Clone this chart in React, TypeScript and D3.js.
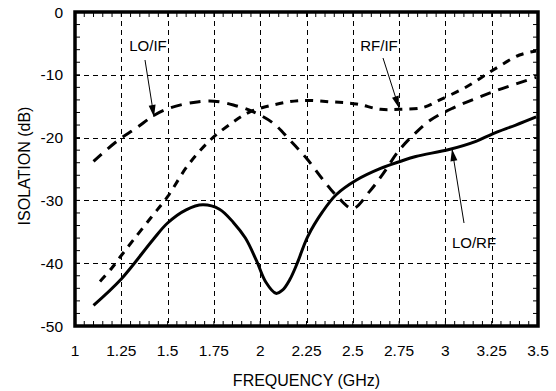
import React from "react";
import * as d3 from "d3";

const xTicks = [1, 1.25, 1.5, 1.75, 2, 2.25, 2.5, 2.75, 3, 3.25, 3.5];
const xTickLabels = ["1", "1.25", "1.5", "1.75", "2", "2.25", "2.5", "2.75", "3", "3.25", "3.5"];
const yTicks = [0, -10, -20, -30, -40, -50];
const yTickLabels = ["0", "-10", "-20", "-30", "-40", "-50"];

const loRfFreq = [1.1, 1.25, 1.42, 1.5, 1.6, 1.69, 1.78, 1.855, 1.92, 1.98, 2.03, 2.085, 2.12, 2.16, 2.2, 2.256, 2.337, 2.41, 2.52, 2.65, 2.755, 2.84, 3.02, 3.165, 3.255, 3.38, 3.49];
const loRfDb = [-46.7, -42.5, -36.3, -33.6, -31.5, -30.7, -31.4, -33.5, -36.0, -39.6, -43.0, -44.8, -44.3, -42.6, -40.0, -35.8, -31.8, -29.1, -26.75, -24.9, -23.8, -23.0, -21.9, -20.6, -19.4, -18.0, -16.7];

const rfIfFreq = [1.135, 1.198, 1.252, 1.315, 1.414, 1.5, 1.61, 1.73, 1.855, 1.945, 2.07, 2.215, 2.38, 2.52, 2.65, 2.755, 2.88, 2.97, 3.115, 3.26, 3.4, 3.49];
const rfIfDb = [-42.9, -40.8, -38.7, -36.3, -32.6, -29.4, -24.4, -20.4, -17.5, -15.9, -14.8, -14.1, -14.3, -14.65, -15.5, -15.5, -15.2, -14.0, -11.9, -9.2, -6.85, -6.2];

const loIfFreq = [1.1, 1.225, 1.33, 1.43, 1.51, 1.64, 1.75, 1.855, 1.963, 2.07, 2.16, 2.25, 2.34, 2.42, 2.5, 2.59, 2.665, 2.745, 2.83, 2.92, 3.04, 3.17, 3.31, 3.49];
const loIfDb = [-23.8, -20.6, -18.5, -16.4, -15.3, -14.4, -14.2, -14.8, -15.9, -17.7, -20.4, -23.3, -26.75, -29.5, -31.3, -28.6, -25.7, -22.2, -19.5, -17.2, -15.3, -13.7, -12.15, -10.4];

const W = 556;
const H = 391;
const left = 75;
const right = 538;
const top = 12;
const bottom = 326;
const FONT = "'Liberation Sans', Arial, sans-serif";

export default function App() {
  const x = d3.scaleLinear().domain([1, 3.5]).range([left, right]);
  const y = d3.scaleLinear().domain([0, -50]).range([top, bottom]);

  const line = d3
    .line<[number, number]>()
    .x((d) => x(d[0]))
    .y((d) => y(d[1]))
    .curve(d3.curveCatmullRom.alpha(0.5));

  const zip = (a: number[], b: number[]) => a.map((v, i) => [v, b[i]] as [number, number]);

  const minorX = d3.range(1, 3.5001, 0.05);
  const minorY = d3.range(0, -50.001, -2);

  const arrows = [
    { x1: 145, y1: 60, x2: 154, y2: 117 },
    { x1: 383, y1: 58, x2: 399, y2: 108 },
    { x1: 464, y1: 223, x2: 452, y2: 149 },
  ];

  const arrowHead = (a: { x1: number; y1: number; x2: number; y2: number }) => {
    const ang = Math.atan2(a.y2 - a.y1, a.x2 - a.x1);
    const len = 12;
    const half = 3.5;
    const bx = a.x2 - len * Math.cos(ang);
    const by = a.y2 - len * Math.sin(ang);
    const px = -Math.sin(ang) * half;
    const py = Math.cos(ang) * half;
    return `M${a.x2},${a.y2}L${bx + px},${by + py}L${bx - px},${by - py}Z`;
  };

  return (
    <svg
      width={W}
      height={H}
      style={{ position: "absolute", left: 0, top: 0, background: "#fff" }}
      fontFamily={FONT}
    >
      <defs>
        <clipPath id="plot">
          <rect x={left} y={top} width={right - left} height={bottom - top} />
        </clipPath>
      </defs>
      <rect width={W} height={H} fill="#fff" />
      {xTicks.slice(1, -1).map((t) => (
        <line key={"gx" + t} x1={Math.round(x(t)) + 0.5} x2={Math.round(x(t)) + 0.5} y1={top} y2={bottom} stroke="#000" strokeWidth={1} strokeDasharray="5,4" />
      ))}
      {yTicks.slice(1, -1).map((t) => (
        <line key={"gy" + t} y1={Math.round(y(t)) + 0.5} y2={Math.round(y(t)) + 0.5} x1={left} x2={right} stroke="#000" strokeWidth={1} strokeDasharray="5,4" />
      ))}
      {minorX.map((t, i) => (
        <g key={"mx" + i}>
          <line x1={x(t)} x2={x(t)} y1={bottom} y2={bottom - 5} stroke="#000" strokeWidth={1} />
          <line x1={x(t)} x2={x(t)} y1={top} y2={top + 5} stroke="#000" strokeWidth={1} />
        </g>
      ))}
      {minorY.map((t, i) => (
        <g key={"my" + i}>
          <line y1={y(t)} y2={y(t)} x1={left} x2={left + 5} stroke="#000" strokeWidth={1} />
          <line y1={y(t)} y2={y(t)} x1={right} x2={right - 5} stroke="#000" strokeWidth={1} />
        </g>
      ))}
      <g clipPath="url(#plot)" fill="none" stroke="#000">
        <path d={line(zip(loRfFreq, loRfDb)) || ""} strokeWidth={3} />
        <path d={line(zip(rfIfFreq, rfIfDb)) || ""} strokeWidth={3} strokeDasharray="8,7" />
        <path d={line(zip(loIfFreq, loIfDb)) || ""} strokeWidth={3} strokeDasharray="11,8" />
      </g>
      <rect x={left} y={top} width={right - left} height={bottom - top} fill="none" stroke="#000" strokeWidth={3.5} />
      {arrows.map((a, i) => (
        <g key={"a" + i}>
          <line x1={a.x1} y1={a.y1} x2={a.x2} y2={a.y2} stroke="#000" strokeWidth={1} />
          <path d={arrowHead(a)} fill="#000" />
        </g>
      ))}
      <text x={148} y={51} fontSize={15} textAnchor="middle">LO/IF</text>
      <text x={379} y={51} fontSize={15} textAnchor="middle">RF/IF</text>
      <text x={474} y={248} fontSize={15} textAnchor="middle">LO/RF</text>
      {xTicks.map((t, i) => (
        <text key={"xl" + t} x={x(t)} y={356} fontSize={15.5} textAnchor="middle">{xTickLabels[i]}</text>
      ))}
      {yTicks.map((t, i) => (
        <text key={"yl" + t} x={63} y={y(t)} dy="0.36em" fontSize={15.5} textAnchor="end">{yTickLabels[i]}</text>
      ))}
      <text x={(left + right) / 2} y={386} fontSize={16} textAnchor="middle">FREQUENCY (GHz)</text>
      <text transform={`translate(30,${(top + bottom) / 2 - 3}) rotate(-90)`} fontSize={16} textAnchor="middle">ISOLATION (dB)</text>
    </svg>
  );
}
